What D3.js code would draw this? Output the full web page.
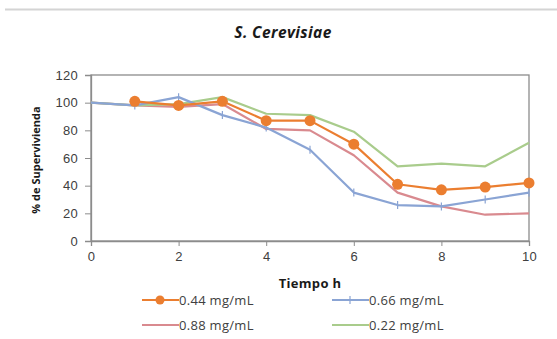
<!DOCTYPE html>
<html>
<head>
<meta charset="utf-8">
<script src="https://cdn.jsdelivr.net/npm/d3@7/dist/d3.min.js"></script>
<style>
  html, body { margin: 0; padding: 0; background: #fff; }
  svg { display: block; font-family: "Open Sans", "Liberation Sans", sans-serif; }
</style>
</head>
<body>
<svg id="chart" width="557" height="339"></svg>
<script>
// Survival (%) of S. cerevisiae over time at four concentrations
const hours   = [0, 1, 2, 3, 4, 5, 6, 7, 8, 9, 10];
const conc044 = [null, 101, 98, 101, 87, 87, 70, 41, 37, 39, 42];
const conc066 = [100, 98, 104, 91, 82, 66, 35, 26, 25, 30, 35];
const conc088 = [100, 98, 97, 99, 81, 80, 62, 35, 25, 19, 20];
const conc022 = [100, 98, 99, 104, 92, 91, 79, 54, 56, 54, 71];
const xTicks  = [0, 2, 4, 6, 8, 10];
const yTicks  = [0, 20, 40, 60, 80, 100, 120];

const seriesList = [
  { name: "0.88 mg/mL", values: conc088, color: "#d98a8f", marker: "none" },
  { name: "0.22 mg/mL", values: conc022, color: "#a9cc8c", marker: "none" },
  { name: "0.66 mg/mL", values: conc066, color: "#8aa4d4", marker: "plus" },
  { name: "0.44 mg/mL", values: conc044, color: "#eb7e30", marker: "circle" }
];

const svg = d3.select("#chart");

// frame line across the top
svg.append("line").attr("x1", 5).attr("x2", 557).attr("y1", 9.5).attr("y2", 9.5)
  .attr("stroke", "#d4d4d4").attr("stroke-width", 2);

const x = d3.scaleLinear().domain([0, 10]).range([91, 529]);
const y = d3.scaleLinear().domain([0, 120]).range([241, 75]);

// plot area border
svg.append("rect").attr("x", x(0)).attr("y", y(120))
  .attr("width", x(10) - x(0)).attr("height", y(0) - y(120))
  .attr("fill", "none").attr("stroke", "#8c8c8c").attr("stroke-width", 1.3);

// axes
const yAxis = svg.append("g").attr("transform", `translate(${x(0)},0)`)
  .call(d3.axisLeft(y).tickValues(yTicks).tickSize(6).tickPadding(7));
const xAxis = svg.append("g").attr("transform", `translate(0,${y(0)})`)
  .call(d3.axisBottom(x).tickValues(xTicks).tickSize(5).tickPadding(6));
[yAxis, xAxis].forEach(g => {
  g.select(".domain").attr("stroke", "#8c8c8c").attr("stroke-width", 1.3);
  g.selectAll(".tick line").attr("stroke", "#8c8c8c");
  g.selectAll(".tick text").attr("fill", "#404040").attr("font-size", 13)
    .attr("letter-spacing", 0.3);
});

// series lines and markers
const line = d3.line()
  .defined(d => d[1] !== null)
  .x(d => x(d[0])).y(d => y(d[1]));

seriesList.forEach(s => {
  const pts = hours.map((h, i) => [h, s.values[i]]);
  svg.append("path").datum(pts)
    .attr("d", line).attr("fill", "none")
    .attr("stroke", s.color).attr("stroke-width", 2.2)
    .attr("stroke-linejoin", "round");
  const valid = pts.filter(d => d[1] !== null);
  if (s.marker === "circle") {
    svg.selectAll(null).data(valid).enter().append("circle")
      .attr("cx", d => x(d[0])).attr("cy", d => y(d[1])).attr("r", 5.5)
      .attr("fill", s.color);
  } else if (s.marker === "plus") {
    const g = svg.selectAll(null).data(valid.slice(1)).enter().append("g")
      .attr("transform", d => `translate(${x(d[0])},${y(d[1])})`);
    g.append("line").attr("x1", 0).attr("x2", 0).attr("y1", -4).attr("y2", 4)
      .attr("stroke", s.color).attr("stroke-width", 1.2);
  }
});

// title and axis titles
svg.append("text").attr("x", 283).attr("y", 38).attr("text-anchor", "middle")
  .attr("font-size", 15.5).attr("font-weight", "bold").attr("font-style", "italic")
  .attr("letter-spacing", 0.4).attr("fill", "#1a1a1a").text("S. Cerevisiae");
svg.append("text").attr("x", 310).attr("y", 288).attr("text-anchor", "middle")
  .attr("font-size", 13).attr("font-weight", "bold").attr("fill", "#1a1a1a")
  .attr("letter-spacing", 0.3).text("Tiempo h");
svg.append("text").attr("transform", "translate(40,160) rotate(-90)")
  .attr("text-anchor", "middle").attr("font-size", 11).attr("font-weight", "bold")
  .attr("fill", "#1a1a1a").text("% de Supervivienda");

// legend
const legendOrder = [
  { s: seriesList[3], x: 142, y: 300 },
  { s: seriesList[2], x: 332, y: 300 },
  { s: seriesList[0], x: 142, y: 325 },
  { s: seriesList[1], x: 332, y: 325 }
];
legendOrder.forEach(({ s, x: lx, y: ly }) => {
  svg.append("line").attr("x1", lx).attr("x2", lx + 37).attr("y1", ly).attr("y2", ly)
    .attr("stroke", s.color).attr("stroke-width", 2.2);
  if (s.marker === "circle") {
    svg.append("circle").attr("cx", lx + 18).attr("cy", ly).attr("r", 4.5).attr("fill", s.color);
  } else if (s.marker === "plus") {
    svg.append("line").attr("x1", lx + 18).attr("x2", lx + 18).attr("y1", ly - 4).attr("y2", ly + 4)
      .attr("stroke", s.color).attr("stroke-width", 1.2);
  }
  svg.append("text").attr("x", lx + 37).attr("y", ly + 4.5)
    .attr("font-size", 13).attr("letter-spacing", 0.3)
    .attr("fill", "#404040").text(s.name);
});
</script>
</body>
</html>
